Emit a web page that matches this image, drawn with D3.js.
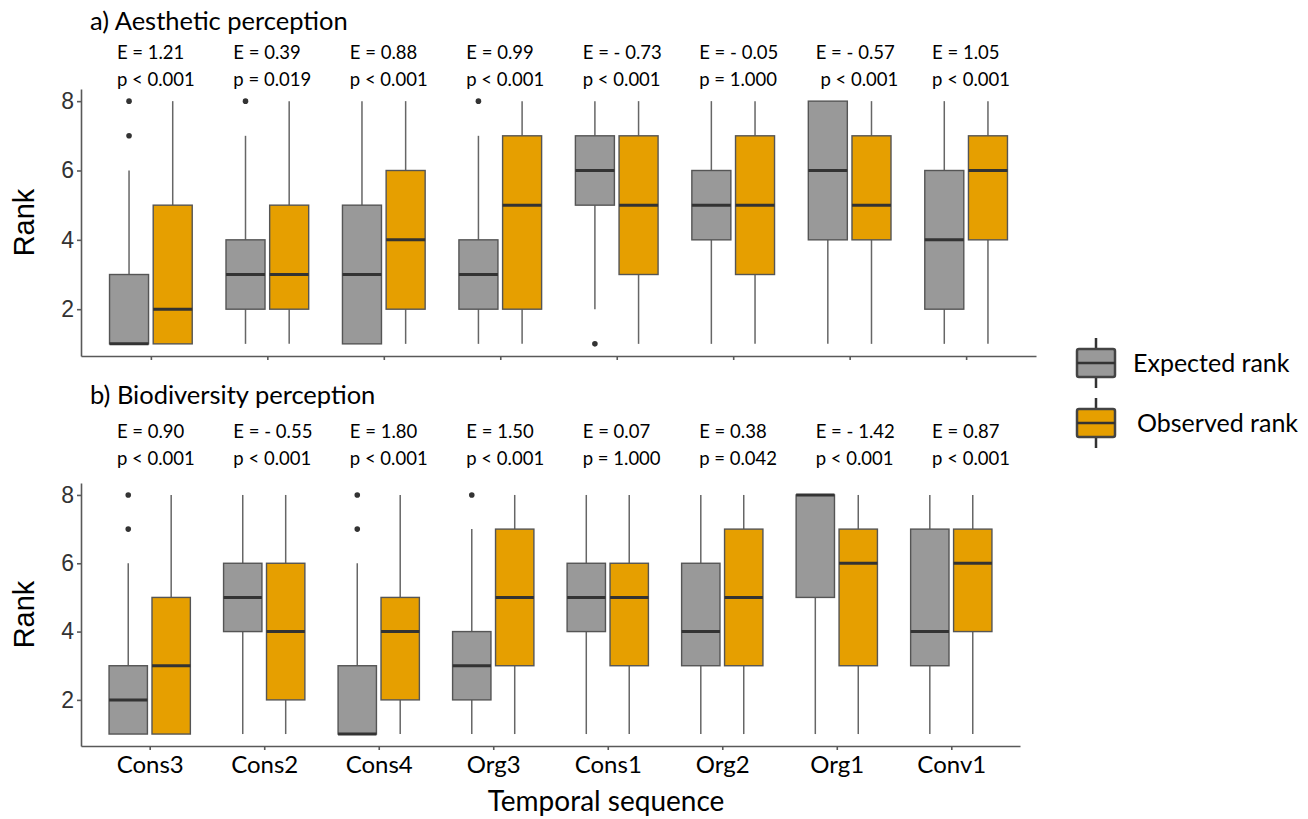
<!DOCTYPE html>
<html>
<head>
<meta charset="utf-8">
<script src="https://cdn.jsdelivr.net/npm/d3@7"></script>
<style>
  body { margin: 0; background: #fff; }
  svg { display: block; }
  .note { font-family: Lato, "Open Sans", sans-serif; font-size: 18.5px; fill: #000; white-space: pre; }
  .ptitle { font-family: Lato, "Open Sans", sans-serif; font-size: 25.5px; fill: #000; }
  .ytitle { font-family: "Liberation Sans", Arial, sans-serif; font-size: 29px; fill: #000; }
  .axis text { font-family: "Liberation Sans", Arial, sans-serif; font-size: 23px; fill: #333; }
  .axis path, .axis line { stroke: #595959; stroke-width: 1.6px; }
  .xlab text { font-family: Lato, "Open Sans", sans-serif; font-size: 24px; fill: #000; }
  .leg { font-family: Lato, "Open Sans", sans-serif; font-size: 25px; fill: #000; }
  .xtitle { font-family: Lato, "Open Sans", sans-serif; font-size: 28px; fill: #000; }
</style>
</head>
<body>
<div id="container"></div>
<script>
// categories + groups
const categories = ['Cons3', 'Cons2', 'Cons4', 'Org3', 'Cons1', 'Org2', 'Org1', 'Conv1'];
const groups = ['Expected rank', 'Observed rank'];
const groupColors = ['#999999', '#E69F00'];

// box stats per category: [whisker low, q1, median, q3, whisker high]
const aesExpected = [[1,1,1,3,6], [1,2,3,4,7], [1,1,3,5,8], [1,2,3,4,7], [2,5,6,7,8], [1,4,5,6,8], [1,4,6,8,8], [1,2,4,6,8]];
const aesExpectedOut = [[7,8], [8], [], [8], [1], [], [], []];
const aesObserved = [[1,1,2,5,8], [1,2,3,5,8], [1,2,4,6,8], [1,2,5,7,8], [1,3,5,7,8], [1,3,5,7,8], [1,4,5,7,8], [1,4,6,7,8]];
const aesObservedOut = [[], [], [], [], [], [], [], []];
const aesE = ['E = 1.21', 'E = 0.39', 'E = 0.88', 'E = 0.99', 'E = - 0.73', 'E = - 0.05', 'E = - 0.57', 'E = 1.05'];
const aesP = ['p < 0.001', 'p = 0.019', 'p < 0.001', 'p < 0.001', 'p < 0.001', 'p = 1.000', ' p < 0.001', 'p < 0.001'];

const bioExpected = [[1,1,2,3,6], [1,4,5,6,8], [1,1,1,3,6], [1,2,3,4,7], [1,4,5,6,8], [1,3,4,6,8], [1,5,8,8,8], [1,3,4,7,8]];
const bioExpectedOut = [[7,8], [], [7,8], [8], [], [], [], []];
const bioObserved = [[1,1,3,5,8], [1,2,4,6,8], [1,2,4,5,8], [1,3,5,7,8], [1,3,5,6,8], [1,3,5,7,8], [1,3,6,7,8], [1,4,6,7,8]];
const bioObservedOut = [[], [], [], [], [], [], [], []];
const bioE = ['E = 0.90', 'E = - 0.55', 'E = 1.80', 'E = 1.50', 'E = 0.07', 'E = 0.38', 'E = - 1.42', 'E = 0.87'];
const bioP = ['p < 0.001', 'p < 0.001', 'p < 0.001', 'p < 0.001', 'p = 1.000', 'p = 0.042', 'p < 0.001', 'p < 0.001'];

const yTicks = [2, 4, 6, 8];

const W = 1308, H = 819;
const svg = d3.select('#container').append('svg')
	.attr('width', W)
	.attr('height', H);

// annotations in the original sit on the same columns in both panels
const xNote = d3.scalePoint().domain(categories).range([81, 1036]).padding(0.6);

function drawPanel(opt){
	var x = d3.scalePoint().domain(categories).range([81, opt.right]).padding(0.6);
	var y = d3.scaleLinear().domain([0.65, 8.35]).range([opt.bottom, opt.top]);
	var step = x.step();
	var boxW = step * 0.335;
	var dodge = d3.scaleBand().domain(groups).range([-step * 0.375, step * 0.375]);

	var g = svg.append('g');

	g.append('text').attr('class', 'ptitle')
		.attr('x', 90).attr('y', opt.titleY)
		.text(opt.title);

	g.append('text').attr('class', 'ytitle')
		.attr('transform', 'translate(34,' + (opt.top + opt.bottom) / 2 + ') rotate(-90)')
		.style('text-anchor', 'middle')
		.text('Rank');

	categories.forEach((c, i) => {
		g.append('text').attr('class', 'note')
			.attr('x', xNote(c) - 34).attr('y', opt.noteY)
			.text(opt.E[i]);
		g.append('text').attr('class', 'note')
			.attr('x', xNote(c) - 34).attr('y', opt.noteY + 27)
			.text(opt.P[i]);
	});

	var series = [[opt.exp, opt.expOut], [opt.obs, opt.obsOut]];

	series.forEach((s, k) => {
		var stats = s[0], outs = s[1];
		categories.forEach((c, i) => {
			var st = stats[i];
			var cx = x(c) + dodge(groups[k]) + dodge.bandwidth() / 2;

			// whiskers
			g.append('line')
				.attr('x1', cx).attr('x2', cx)
				.attr('y1', y(st[0])).attr('y2', y(st[1]))
				.attr('stroke', '#666').attr('stroke-width', 1.5);
			g.append('line')
				.attr('x1', cx).attr('x2', cx)
				.attr('y1', y(st[3])).attr('y2', y(st[4]))
				.attr('stroke', '#666').attr('stroke-width', 1.5);

			g.append('rect')
				.attr('x', cx - boxW / 2).attr('width', boxW)
				.attr('y', y(st[3])).attr('height', y(st[1]) - y(st[3]))
				.attr('fill', groupColors[k])
				.attr('stroke', '#555').attr('stroke-width', 1.4);

			g.append('line')
				.attr('x1', cx - boxW / 2).attr('x2', cx + boxW / 2)
				.attr('y1', y(st[2])).attr('y2', y(st[2]))
				.attr('stroke', '#333').attr('stroke-width', 3);

			outs[i].forEach(v => {
				g.append('circle')
					.attr('cx', cx).attr('cy', y(v)).attr('r', 2.8)
					.attr('fill', '#333');
			});
		});
	});

	g.append('g').attr('class', 'axis')
		.attr('transform', 'translate(81,0)')
		.call(d3.axisLeft(y).tickValues(yTicks).tickSize(4).tickSizeOuter(0).tickPadding(3));

	var xAxis = g.append('g').attr('class', 'axis' + (opt.labels ? ' xlab' : ''))
		.attr('transform', 'translate(0,' + opt.bottom + ')')
		.call(d3.axisBottom(x).tickSize(4).tickSizeOuter(0).tickPadding(6));

	if (!opt.labels){
		xAxis.selectAll('text').remove();
	}
}

drawPanel({
	title: 'a) Aesthetic perception', titleY: 30,
	top: 89, bottom: 356, right: 1036, noteY: 59, labels: false,
	exp: aesExpected, expOut: aesExpectedOut,
	obs: aesObserved, obsOut: aesObservedOut,
	E: aesE, P: aesP
});

drawPanel({
	title: 'b) Biodiversity perception', titleY: 404,
	top: 483, bottom: 746, right: 1020, noteY: 438, labels: true,
	exp: bioExpected, expOut: bioExpectedOut,
	obs: bioObserved, obsOut: bioObservedOut,
	E: bioE, P: bioP
});

svg.append('text').attr('class', 'xtitle')
	.attr('x', 606).attr('y', 811)
	.style('text-anchor', 'middle')
	.text('Temporal sequence');

//legend
var legend = svg.append('g').attr('transform', 'translate(1096,0)');

groups.forEach((grp, k) => {
	var cy = 363 + k * 60;
	var key = legend.append('g').attr('transform', 'translate(0,' + cy + ')');
	key.append('line')
		.attr('x1', 0).attr('x2', 0).attr('y1', -25).attr('y2', 25)
		.attr('stroke', '#333').attr('stroke-width', 2.5);
	key.append('rect')
		.attr('x', -19).attr('y', -14).attr('width', 38).attr('height', 28)
		.attr('rx', 2)
		.attr('fill', groupColors[k])
		.attr('stroke', '#444').attr('stroke-width', 2.5);
	key.append('line')
		.attr('x1', -19).attr('x2', 19).attr('y1', 0).attr('y2', 0)
		.attr('stroke', '#333').attr('stroke-width', 2.5);
	key.append('text').attr('class', 'leg')
		.attr('x', 37 + k * 4).attr('y', 9)
		.text(grp);
});
</script>
</body>
</html>
